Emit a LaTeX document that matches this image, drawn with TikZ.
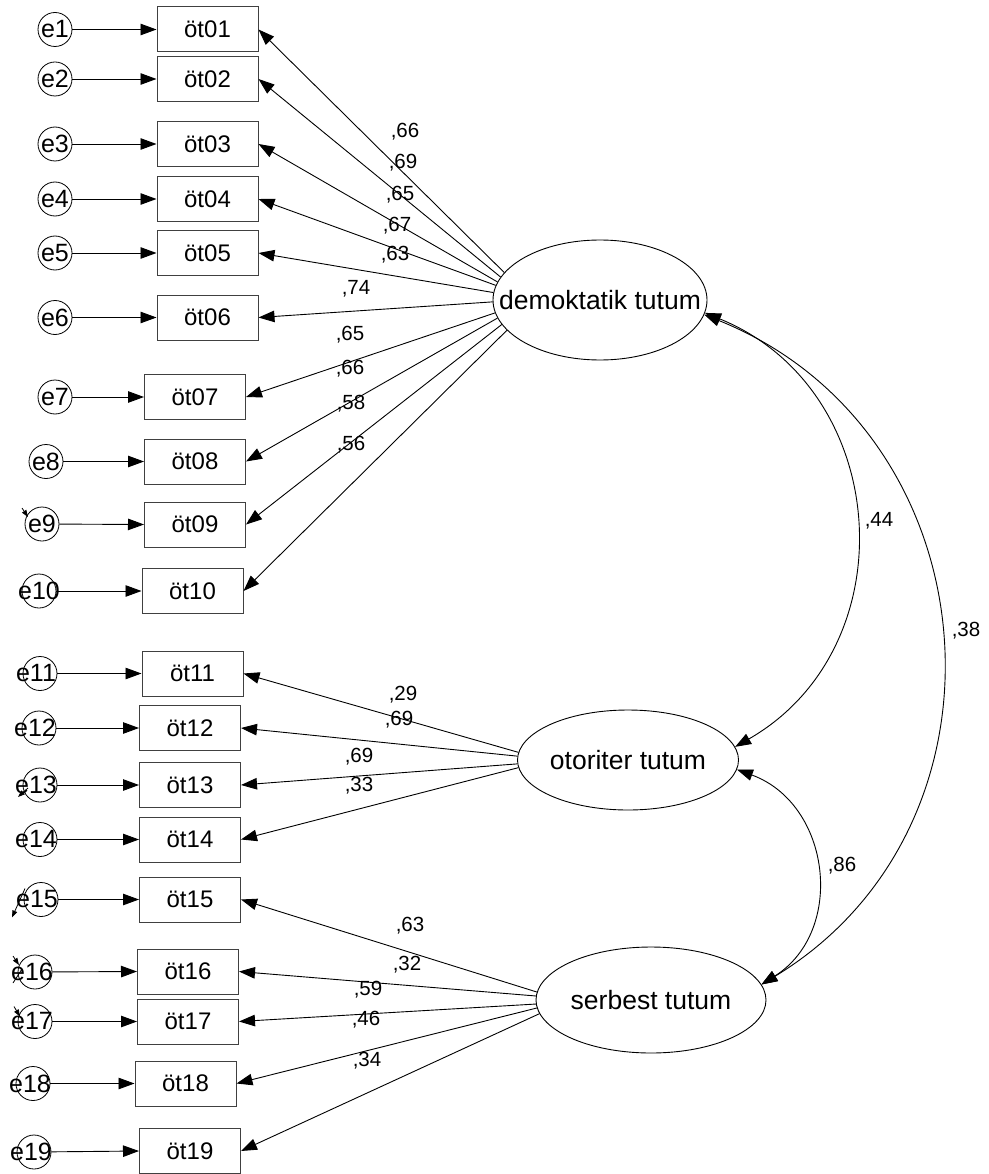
\documentclass[tikz,border=0pt]{standalone}
\usepackage{fontspec}
\setmainfont{Liberation Sans}
\usetikzlibrary{arrows.meta,shapes.geometric}
\begin{document}
\begin{tikzpicture}[x=1pt,y=-1pt,
  obs/.style={draw=black!75, line width=1pt, minimum width=101pt, minimum height=45pt,
              inner sep=0pt, font=\fontsize{24}{28}\selectfont},
  err/.style={draw, circle, line width=0.8pt, minimum size=34pt, inner sep=0pt},
  elbl/.style={font=\fontsize{25}{29}\selectfont, inner sep=0pt},
  lat/.style={draw, ellipse, line width=0.9pt, inner sep=0pt},
  lattext/.style={font=\fontsize{26.5}{30}\selectfont, inner sep=0pt},
  coef/.style={font=\fontsize{20.5}{24}\selectfont, inner sep=0pt},
  reg/.style={line width=0.9pt, -{Triangle[length=16pt,width=11.5pt]}},
  cov/.style={line width=0.9pt, {Triangle[length=16pt,width=11.5pt]}-{Triangle[length=16pt,width=11.5pt]}},
  stub/.style={line width=0.8pt, -{Triangle[length=7pt,width=5pt]}},
]
\useasboundingbox (0,0) rectangle (988,1174);

% latent variables
\node[lat, minimum width=214pt, minimum height=120pt,
      label={[lattext]center:demoktatik tutum}] (dem) at (600,300) {};
\node[lat, minimum width=221pt, minimum height=100pt,
      label={[lattext]center:otoriter tutum}] (oto) at (628,760) {};
\node[lat, minimum width=230pt, minimum height=106pt,
      label={[lattext]center:serbest tutum}] (ser) at (651,1000) {};

% observed items
\node[obs] (b01) at (207.5,29.5)  {öt01};
\node[obs] (b02) at (207.5,79)    {öt02};
\node[obs] (b03) at (207.5,144)   {öt03};
\node[obs] (b04) at (207.5,199)   {öt04};
\node[obs] (b05) at (207.5,253)   {öt05};
\node[obs] (b06) at (207.5,317.5) {öt06};
\node[obs] (b07) at (195,397)     {öt07};
\node[obs] (b08) at (195,461.5)   {öt08};
\node[obs] (b09) at (195,524.5)   {öt09};
\node[obs] (b10) at (192.5,591)   {öt10};
\node[obs] (b11) at (192.5,673.5) {öt11};
\node[obs] (b12) at (190,728)     {öt12};
\node[obs] (b13) at (190,785)     {öt13};
\node[obs] (b14) at (190,839.5)   {öt14};
\node[obs] (b15) at (190,899.5)   {öt15};
\node[obs] (b16) at (188,971.5)   {öt16};
\node[obs] (b17) at (188,1021.5)  {öt17};
\node[obs] (b18) at (185.5,1083.5){öt18};
\node[obs] (b19) at (190,1151)    {öt19};

% error terms
\node[err, label={[elbl]center:e1}]  (e1)  at (55,29.5)  {};
\node[err, label={[elbl]center:e2}]  (e2)  at (55,79)    {};
\node[err, label={[elbl]center:e3}]  (e3)  at (55,144)   {};
\node[err, label={[elbl]center:e4}]  (e4)  at (55,199)   {};
\node[err, label={[elbl]center:e5}]  (e5)  at (55,253)   {};
\node[err, label={[elbl]center:e6}]  (e6)  at (55,317.5) {};
\node[err, label={[elbl]center:e7}]  (e7)  at (55,397)   {};
\node[err, label={[elbl]center:e8}]  (e8)  at (46,461.5) {};
\node[err, label={[elbl]center:e9}]  (e9)  at (42,524)   {};
\node[err, label={[elbl]center:e10}] (e10) at (39,591)   {};
\node[err, label={[elbl,xshift=-4pt]center:e11}] (e11) at (40,673.5) {};
\node[err, label={[elbl,xshift=-4pt]center:e12}] (e12) at (39,728)   {};
\node[err, label={[elbl,xshift=-4pt]center:e13}] (e13) at (40,785)   {};
\node[err, label={[elbl,xshift=-4pt]center:e14}] (e14) at (40,839.5) {};
\node[err, label={[elbl,xshift=-4pt]center:e15}] (e15) at (41,899.5) {};
\node[err, label={[elbl,xshift=-3pt]center:e16}] (e16) at (35,972)   {};
\node[err, label={[elbl,xshift=-3pt]center:e17}] (e17) at (35,1021.5){};
\node[err, label={[elbl,xshift=-3pt]center:e18}] (e18) at (33,1083.5){};
\node[err, label={[elbl,xshift=-3pt]center:e19}] (e19) at (34,1152)  {};

% error -> item
\foreach \i in {1,2,3,4,5,6,7,8,9}
  \draw[reg] (e\i) -- (b0\i.west);
\foreach \i in {10,11,12,13,14,15,16,17,18,19}
  \draw[reg] (e\i) -- (b\i.west);

% factor loadings (each leaves the factor at its own point of the left rim)
\foreach \i/\a in {01/164,02/167.6,03/170,04/172.8,05/176.2,
                   06/-179,07/-173,08/-170,09/-166.2,10/-162}
  \draw[reg] (dem.\a) -- (b\i.east);
\foreach \i/\a in {11/176.4,12/178.5,13/-178.5,14/-176.4}
  \draw[reg] (oto.\a) -- (b\i.east);
\foreach \i/\a in {15/176,16/178.5,17/-178.5,18/-176.5,19/-173.3}
  \draw[reg] (ser.\a) -- (b\i.east);

% factor covariances
\draw[cov] (dem.-7) .. controls (892,389) and (909,647) .. (oto.7);
\draw[cov] (dem.-8) .. controls (993,431) and (1026,824) .. (ser.8);
\draw[cov] (oto.-5) .. controls (831,804) and (846,931) .. (ser.8);

% loading estimates
\node[coef] (l01) at (405,132) {,66};
\node[coef] (l02) at (403,163) {,69};
\node[coef] (l03) at (400,195) {,65};
\node[coef] (l04) at (397,226) {,67};
\node[coef] (l05) at (395,255) {,63};
\node[coef] (l06) at (356,289) {,74};
\node[coef] (l07) at (350,335) {,65};
\node[coef] (l08) at (350,369) {,66};
\node[coef] (l09) at (351,404) {,58};
\node[coef] (l10) at (351,445) {,56};
\node[coef] (l11) at (403,695) {,29};
\node[coef] (l12) at (399,720) {,69};
\node[coef] (l13) at (359,757) {,69};
\node[coef] (l14) at (359,786) {,33};
\node[coef] (l15) at (410,926) {,63};
\node[coef] (l16) at (407,965) {,32};
\node[coef] (l17) at (368,990) {,59};
\node[coef] (l18) at (366,1020) {,46};
\node[coef] (l19) at (367,1061) {,34};

% covariance estimates
\node[coef] (k1) at (879,521) {,44};
\node[coef] (k2) at (966,631) {,38};
\node[coef] (k3) at (842,866) {,86};

% residual arrow stubs left at some error terms
\draw[stub] ([shift={(-20,-16)}]e9.center) -- ([shift={(-14,-7)}]e9.center);
\draw[stub] ([shift={(-12,3)}]e13.center) -- ([shift={(-22,12)}]e13.center);
\draw[stub] ([shift={(-16,-11)}]e15.center) -- ([shift={(-29,18)}]e15.center);
\draw[stub] ([shift={(-22,-16)}]e16.center) -- ([shift={(-16,-7)}]e16.center);
\draw[line width=0.8pt] ([shift={(-22,11)}]e16.center) -- ([shift={(-13,-3)}]e16.center);
\draw[stub] ([shift={(-21,-15)}]e17.center) -- ([shift={(-15,-5)}]e17.center);
\end{tikzpicture}
\end{document}
